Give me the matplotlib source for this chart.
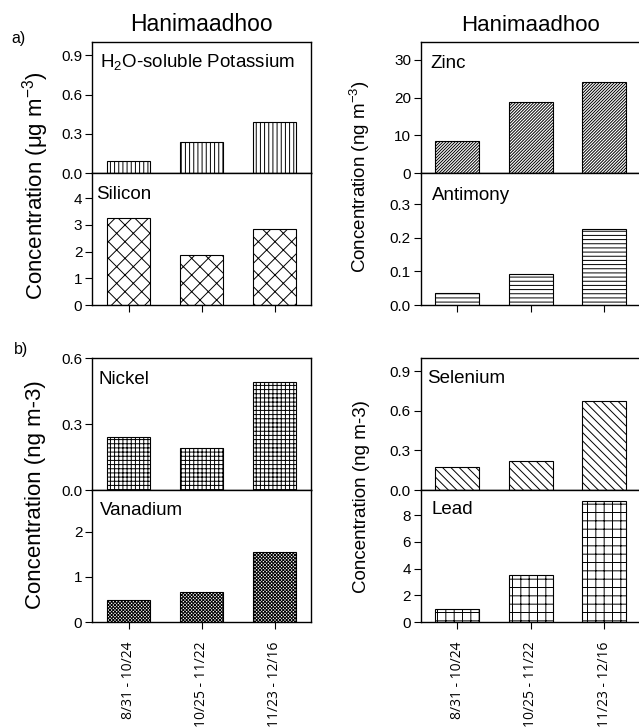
import matplotlib
matplotlib.use("Agg")
import matplotlib.pyplot as plt
import numpy as np

# ---------------- data ----------------
periods = ["8/31 - 10/24", "10/25 - 11/22", "11/23 - 12/16"]
site = "Hanimaadhoo"

potassium = [0.09, 0.24, 0.39]
silicon = [3.27, 1.88, 2.85]
zinc = [8.5, 18.8, 24.1]
antimony = [0.037, 0.092, 0.226]
nickel = [0.243, 0.19, 0.49]
vanadium = [0.48, 0.66, 1.55]
selenium = [0.172, 0.218, 0.673]
lead = [1.0, 3.5, 9.08]

# ---------------- style ----------------
plt.rcParams['font.family'] = ['Liberation Sans', 'DejaVu Sans']
plt.rcParams['mathtext.fontset'] = 'custom'
plt.rcParams['mathtext.rm'] = 'Liberation Sans'
plt.rcParams['mathtext.it'] = 'Liberation Sans:italic'
plt.rcParams['mathtext.bf'] = 'Liberation Sans:bold'
plt.rcParams['hatch.linewidth'] = 0.7
plt.rcParams['axes.linewidth'] = 1.0

W, H = 639, 728
fig = plt.figure(figsize=(W / 100, H / 100), dpi=100)

TICK_FS = 11
LABEL_FS = 13.5
x = np.arange(len(periods))


def px_box(left, top, right, bottom):
    return [left / W, 1 - bottom / H, (right - left) / W, (bottom - top) / H]


def panel(box, values, hatch, ylim, yticks, fmt, name, name_xy, bottom_axis, xlabels):
    ax = fig.add_axes(box)
    ax.bar(x, values, width=0.6, color='white', edgecolor='black',
           linewidth=0.8, hatch=hatch)
    ax.set_xlim(-0.5, 2.5)
    ax.set_ylim(*ylim)
    ax.set_yticks(yticks)
    ax.set_yticklabels([fmt.format(v) for v in yticks])
    ax.tick_params(axis='y', direction='out', length=5, width=0.8,
                   labelsize=TICK_FS, pad=2)
    if bottom_axis:
        ax.set_xticks(x)
        ax.tick_params(axis='x', direction='out', length=5, width=0.8)
        if xlabels:
            ax.set_xticklabels(periods, rotation=90, fontsize=10,
                               family=['Open Sans', 'DejaVu Sans'],
                               va='top', ha='center')
            ax.tick_params(axis='x', pad=9)
        else:
            ax.set_xticklabels([])
    else:
        ax.set_xticks([])
    fig.text(name_xy[0] / W, 1 - name_xy[1] / H, name, fontsize=LABEL_FS,
             ha='left', va='baseline')
    return ax


# columns (pixel coordinates)
LL, LR = 92, 311
RL, RR = 420.7, 640.7
# rows
T1, M1, B1 = 42, 173.3, 305
T2, M2, B2 = 358.3, 490, 622

# ---- a) top-left
panel(px_box(LL, T1, LR, M1), potassium, '||||', (0, 1.0), [0.0, 0.3, 0.6, 0.9],
      '{:.1f}', 'H$_2$O-soluble Potassium', (100, 66.5), False, False)
panel(px_box(LL, M1, LR, B1), silicon, 'xx', (0, 4.93), [0, 1, 2, 3, 4],
      '{:.0f}', 'Silicon', (96.5, 199), True, False)
# ---- a) top-right
panel(px_box(RL, T1, RR, M1), zinc, '/' * 11, (0, 34.7), [0, 10, 20, 30],
      '{:.0f}', 'Zinc', (430.5, 68.3), False, False)
panel(px_box(RL, M1, RR, B1), antimony, '----', (0, 0.393), [0.0, 0.1, 0.2, 0.3],
      '{:.1f}', 'Antimony', (432, 199.5), True, False)
# ---- b) bottom-left
panel(px_box(LL, T2, LR, M2), nickel, '++++', (0, 0.6), [0.0, 0.3, 0.6],
      '{:.1f}', 'Nickel', (99, 384.3), False, False)
panel(px_box(LL, M2, LR, B2), vanadium, 'x' * 10, (0, 2.92), [0, 1, 2],
      '{:.0f}', 'Vanadium', (100, 515), True, True)
# ---- b) bottom-right
panel(px_box(RL, T2, RR, M2), selenium, '\\' * 4, (0, 1.0), [0.0, 0.3, 0.6, 0.9],
      '{:.1f}', 'Selenium', (427.3, 383.3), False, False)
panel(px_box(RL, M2, RR, B2), lead, '++', (0, 9.88), [0, 2, 4, 6, 8],
      '{:.0f}', 'Lead', (431.5, 514.3), True, True)

# titles
fig.text((LL + LR) / 2 / W, 1 - 30.7 / H, site, fontsize=16.5, ha='center', va='baseline')
fig.text((RL + RR) / 2 / W, 1 - 30.7 / H, site, fontsize=16, ha='center', va='baseline')

# panel letters
fig.text(11 / W, 1 - 42.5 / H, 'a)', fontsize=11.5, ha='left', va='baseline')
fig.text(14 / W, 1 - 354 / H, 'b)', fontsize=11.5, ha='left', va='baseline')

# y labels
fig.text(35.5 / W, 1 - 186 / H, 'Concentration (\u03bcg m$^{-3}$)', fontsize=16,
         rotation=90, ha='center', va='center')
fig.text(360 / W, 1 - 176.5 / H, 'Concentration (ng m$^{-3}$)', fontsize=13.5,
         rotation=90, ha='center', va='center')
fig.text(36 / W, 1 - 495 / H, 'Concentration (ng m-3)', fontsize=16,
         rotation=90, ha='center', va='center')
fig.text(361 / W, 1 - 497 / H, 'Concentration (ng m-3)', fontsize=13.5,
         rotation=90, ha='center', va='center')

fig.savefig('out.png', dpi=100)
